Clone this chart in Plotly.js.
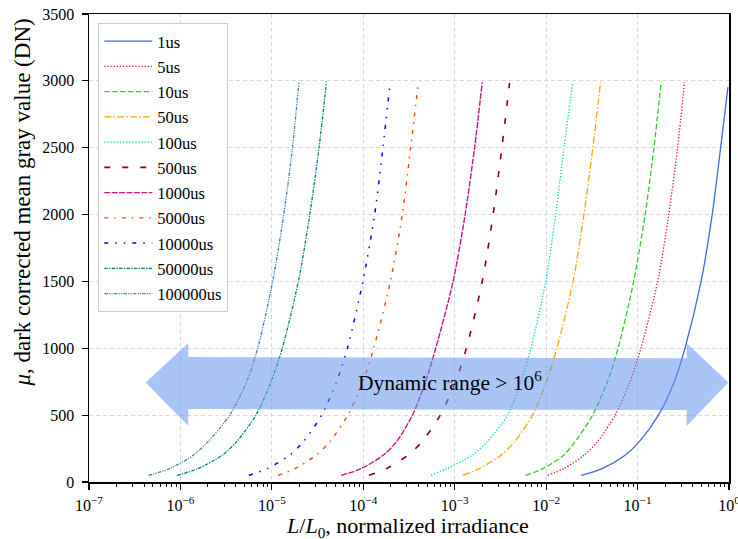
<!DOCTYPE html>
<html>
<head>
<meta charset="utf-8">
<script src="https://cdn.plot.ly/plotly-3.0.1.min.js"></script>
<style>
  html, body { margin: 0; padding: 0; background: #fff; }
  #chart { width: 738px; height: 539px; }
</style>
</head>
<body>
<div id="chart"></div>
<script>
// Exposure times shown in the legend
const exposureLabels = ['1us', '5us', '10us', '50us', '100us', '500us', '1000us', '5000us', '10000us', '50000us', '100000us'];

// Dark-corrected mean gray value (DN) sampled along each curve
const muLevels = [50, 100, 200, 300, 500, 750, 1000, 1500, 2000, 2500];
// Last (saturation-side) value of each curve, same order as exposureLabels
const muTop = [2955, 2990, 2995, 2990, 2990, 2985, 2990, 2962, 2950, 2995, 2995];

// Normalized irradiance L/L0 at each of muLevels, then at muTop
const irr_1us      = [0.0242, 0.041, 0.073, 0.104, 0.169, 0.252, 0.33, 0.495, 0.655, 0.81, 0.975];
const irr_5us      = [0.0104, 0.0156, 0.0259, 0.0362, 0.0569, 0.0827, 0.1085, 0.166, 0.219, 0.274, 0.326];
const irr_10us     = [0.00596, 0.0092, 0.0155, 0.0207, 0.0322, 0.0468, 0.0612, 0.0905, 0.121, 0.151, 0.1816];
const irr_50us     = [0.00123, 0.00185, 0.0032, 0.0045, 0.0071, 0.0101, 0.0131, 0.0197, 0.0259, 0.0324, 0.0394];
const irr_100us    = [0.00055, 0.00082, 0.00155, 0.00225, 0.0038, 0.0053, 0.0068, 0.0099, 0.0127, 0.0157, 0.0196];
const irr_500us    = [0.000115, 0.000179, 0.000308, 0.000437, 0.000695, 0.00102, 0.00134, 0.00200, 0.00263, 0.00328, 0.00398];
const irr_1000us   = [5.75e-5, 9.5e-5, 1.65e-4, 2.3e-4, 3.45e-4, 4.8e-4, 6.2e-4, 9.6e-4, 1.3e-3, 1.65e-3, 2.0e-3];
const irr_5000us   = [1.17e-5, 1.79e-5, 3.04e-5, 4.28e-5, 6.77e-5, 9.9e-5, 1.30e-4, 1.98e-4, 2.67e-4, 3.3e-4, 3.96e-4];
const irr_10000us  = [5.6e-6, 8.9e-6, 1.56e-5, 2.2e-5, 3.5e-5, 5.1e-5, 6.7e-5, 9.9e-5, 1.33e-4, 1.64e-4, 1.94e-4];
const irr_50000us  = [9.2e-7, 1.56e-6, 2.85e-6, 4.1e-6, 6.7e-6, 9.8e-6, 1.3e-5, 1.95e-5, 2.6e-5, 3.28e-5, 3.96e-5];
const irr_100000us = [4.5e-7, 7.6e-7, 1.38e-6, 2.0e-6, 3.45e-6, 5.3e-6, 7.0e-6, 1.02e-5, 1.35e-5, 1.68e-5, 1.98e-5];

// Decade tick positions and their labels on the irradiance axis
const xTickVals = [1e-7, 1e-6, 1e-5, 1e-4, 1e-3, 1e-2, 1e-1, 1e0];
const xTickText = ['10<sup>\u22127</sup>', '10<sup>\u22126</sup>', '10<sup>\u22125</sup>', '10<sup>\u22124</sup>',
                   '10<sup>\u22123</sup>', '10<sup>\u22122</sup>', '10<sup>\u22121</sup>', '10<sup>0</sup>'];

const irradianceSeries = [irr_1us, irr_5us, irr_10us, irr_50us, irr_100us, irr_500us,
                          irr_1000us, irr_5000us, irr_10000us, irr_50000us, irr_100000us];

// Line appearance per exposure
const lineColors = ['#4169e1', '#dc143c', '#32cd32', '#ffa500', '#00ced1', '#8b0000',
                    '#c71585', '#ff4500', '#0000ff', '#008080', '#4682b4'];
const lineDashes = ['solid', '1.3px,1.8px', '5.5px,2.4px', '7px,2.2px,1.5px,2.2px', '1.3px,1.8px',
                    '6px,12px', '6px,1.4px', '4px,6px,1.5px,6px', '4px,7px,1.5px,7px,1.5px,7px',
                    '3.5px,1.3px,1.3px,1.3px', '3.5px,1.2px,1.2px,1.2px,1.2px,1.2px'];
const lineWidths = [1.3, 1.3, 1.3, 1.3, 1.3, 1.6, 1.4, 1.4, 1.5, 1.3, 1.3];

const SERIF = 'Liberation Serif';

const traces = exposureLabels.map(function (label, i) {
  return {
    type: 'scatter',
    mode: 'lines',
    name: label,
    legendgroup: label,
    x: irradianceSeries[i],
    y: muLevels.concat([muTop[i]]),
    line: { color: lineColors[i], width: lineWidths[i], dash: lineDashes[i], shape: 'spline', smoothing: 0.8 },
    hoverinfo: 'x+y+name'
  };
});

// Double-headed arrow spanning the usable irradiance range (paper coordinates)
const arrowPath = 'M 0.0886 0.2125 L 0.1552 0.2970 L 0.1552 0.2671 L 0.9339 0.2643 L 0.9339 0.2970 ' +
                  'L 0.9989 0.2125 L 0.9339 0.1197 L 0.9339 0.1538 L 0.1552 0.1560 L 0.1552 0.1197 Z';

const layout = {
  width: 738,
  height: 539,
  margin: { l: 89, r: 9, t: 14, b: 57 },
  paper_bgcolor: '#ffffff',
  plot_bgcolor: '#ffffff',
  font: { family: SERIF, size: 16, color: '#000' },
  showlegend: true,
  legend: {
    x: 0.0145, y: 0.981, xanchor: 'left', yanchor: 'top',
    bgcolor: 'rgba(255,255,255,0.85)',
    bordercolor: '#cccccc', borderwidth: 1,
    font: { family: SERIF, size: 16.5, color: '#000' },
    traceorder: 'grouped',
    tracegroupgap: 0.8,
    itemwidth: 48
  },
  xaxis: {
    type: 'log',
    range: [-7, 0],
    tickmode: 'array',
    tickvals: xTickVals,
    ticktext: xTickText,
    ticklabeloverflow: 'allow',
    ticklabelstandoff: 2,
    ticks: 'outside', ticklen: 6, tickwidth: 1.2, tickcolor: '#000',
    showline: true, linecolor: '#000', linewidth: 1.5, mirror: true,
    showgrid: true, gridcolor: '#d9d9d9', gridwidth: 1, griddash: '4px,3px',
    zeroline: false,
    tickfont: { family: SERIF, size: 16, color: '#000' },
    minor: { tickmode: 'linear', tick0: 0, dtick: 'D1', ticks: 'outside', ticklen: 3.5, tickwidth: 1, tickcolor: '#000', showgrid: false }
  },
  yaxis: {
    range: [0, 3500],
    tickmode: 'linear', tick0: 0, dtick: 500,
    ticklabelstandoff: 4,
    ticks: 'outside', ticklen: 6, tickwidth: 1.2, tickcolor: '#000',
    showline: true, linecolor: '#000', linewidth: 1.5, mirror: true,
    showgrid: true, gridcolor: '#d9d9d9', gridwidth: 1, griddash: '4px,3px',
    zeroline: false,
    tickfont: { family: SERIF, size: 16, color: '#000' }
  },
  shapes: [{
    type: 'path', xref: 'paper', yref: 'paper', path: arrowPath,
    fillcolor: 'rgba(100,149,237,0.55)', line: { width: 0 }, layer: 'above'
  }],
  annotations: [
    {
      xref: 'paper', yref: 'paper', x: 0.564, y: 0.214, xanchor: 'center', yanchor: 'middle',
      text: 'Dynamic range &gt; 10<sup>6</sup>', showarrow: false,
      font: { family: SERIF, size: 21.5, color: '#000' }
    },
    {
      // x-axis title
      xref: 'paper', yref: 'paper', x: 0.497, y: -0.0955, xanchor: 'center', yanchor: 'middle',
      showarrow: false,
      text: '<i>L</i>/<i>L</i><sub>0</sub>, normalized irradiance',
      font: { family: SERIF, size: 22, color: '#000' }
    },
    {
      // y-axis title
      xref: 'paper', yref: 'paper', x: -0.104, y: 0.598, xanchor: 'center', yanchor: 'middle',
      textangle: -90, showarrow: false,
      text: '<i>\u03bc</i>, dark corrected mean gray value (DN)',
      font: { family: SERIF, size: 23, color: '#000' }
    }
  ]
};

Plotly.newPlot('chart', traces, layout, { displayModeBar: false, staticPlot: true });
</script>
</body>
</html>
